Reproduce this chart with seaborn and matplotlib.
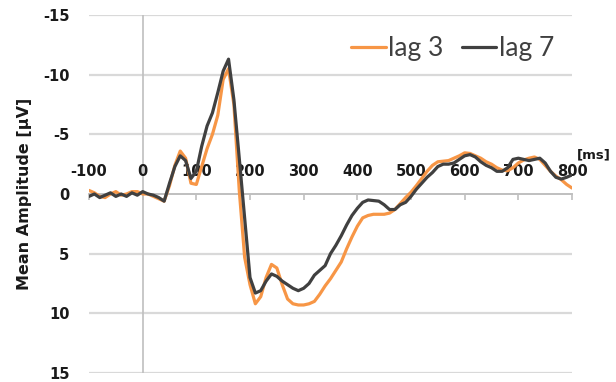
import matplotlib
matplotlib.use("Agg")
import matplotlib.pyplot as plt
import seaborn as sns
import pandas as pd

# time points (ms) and mean amplitudes (µV)
time_ms = [-100, -90, -80, -70, -60, -50, -40, -30, -20, -10,
           0, 10, 20, 30, 40, 50, 60, 70, 80, 90,
           100, 110, 120, 130, 140, 150, 160, 170, 180, 190,
           200, 210, 220, 230, 240, 250, 260, 270, 280, 290,
           300, 310, 320, 330, 340, 350, 360, 370, 380, 390,
           400, 410, 420, 430, 440, 450, 460, 470, 480, 490,
           500, 510, 520, 530, 540, 550, 560, 570, 580, 590,
           600, 610, 620, 630, 640, 650, 660, 670, 680, 690,
           700, 710, 720, 730, 740, 750, 760, 770, 780, 790,
           800]

lag3 = [-0.3, -0.1, 0.2, 0.3, 0.0, -0.2, 0.1, 0.0, -0.2, -0.2,
        0.0, 0.0, 0.2, 0.4, 0.6, -0.7, -2.4, -3.6, -3.0, -0.9,
        -0.8, -2.3, -3.8, -5.0, -6.6, -9.6, -10.5, -7.5, -0.3, 5.3,
        7.6, 9.2, 8.6, 7.0, 5.9, 6.2, 7.6, 8.8, 9.2, 9.3,
        9.3, 9.2, 9.0, 8.4, 7.7, 7.1, 6.4, 5.7, 4.6, 3.6,
        2.7, 2.0, 1.8, 1.7, 1.7, 1.7, 1.6, 1.3, 0.8, 0.3,
        -0.15, -0.7, -1.3, -1.9, -2.4, -2.7, -2.75, -2.8, -3.0, -3.2,
        -3.45, -3.4, -3.2, -3.0, -2.7, -2.5, -2.2, -2.0, -1.95, -2.2,
        -2.6, -2.85, -3.0, -3.1, -2.9, -2.4, -1.9, -1.5, -1.2, -0.8,
        -0.5]

lag7 = [0.2, 0.0, 0.3, 0.1, -0.1, 0.2, 0.0, 0.2, -0.1, 0.1,
        -0.2, 0.0, 0.1, 0.3, 0.6, -0.9, -2.3, -3.2, -2.8, -1.3,
        -1.9, -4.0, -5.7, -6.8, -8.5, -10.3, -11.3, -7.9, -3.0, 2.0,
        7.0, 8.3, 8.1, 7.3, 6.7, 6.9, 7.3, 7.6, 7.9, 8.1,
        7.9, 7.5, 6.8, 6.4, 6.0, 5.0, 4.3, 3.5, 2.6, 1.8,
        1.2, 0.7, 0.5, 0.55, 0.6, 0.9, 1.3, 1.3, 0.9, 0.7,
        0.2, -0.4, -0.9, -1.4, -1.8, -2.3, -2.5, -2.5, -2.6, -2.9,
        -3.2, -3.3, -3.1, -2.7, -2.4, -2.2, -1.9, -1.9, -2.2, -2.9,
        -3.0, -2.9, -2.8, -2.9, -3.0, -2.6, -1.9, -1.4, -1.25, -1.4,
        -1.6]

conditions = ["lag 3", "lag 7"]
colors = ["#F79646", "#404040"]

df = pd.concat([
    pd.DataFrame({"Time": time_ms, "Amplitude": lag3, "Condition": conditions[0]}),
    pd.DataFrame({"Time": time_ms, "Amplitude": lag7, "Condition": conditions[1]}),
])

sns.set_theme(style="white")
plt.rcParams["font.family"] = ["Lato", "DejaVu Sans"]
plt.rcParams["axes.unicode_minus"] = False

fig = plt.figure(figsize=(6.16, 3.82), dpi=100)
ax = fig.add_axes([89 / 616, 1 - 373 / 382, 483 / 616, 358 / 382])

sns.lineplot(data=df, x="Time", y="Amplitude", hue="Condition",
             palette=dict(zip(conditions, colors)), linewidth=2.3, ax=ax)

ax.set_xlim(-100, 800)
ax.set_ylim(15, -15)
ax.set_yticks([-15, -10, -5, 0, 5, 10, 15])
ax.set_xticks(range(-100, 801, 100))

# horizontal gridlines, vertical axis line at 0
for yv in [-15, -10, -5, 5, 10, 15]:
    ax.axhline(yv, color="#D9D9D9", lw=1.6, zorder=0)
ax.axvline(0, color="#BFBFBF", lw=1.2, zorder=0)

for s in ["left", "right", "bottom"]:
    ax.spines[s].set_visible(False)
ax.spines["top"].set_position(("data", 0))
ax.spines["top"].set_color("#BFBFBF")
ax.spines["top"].set_linewidth(1.4)
ax.spines["top"].set_zorder(0)
ax.xaxis.set_ticks_position("top")
ax.tick_params(axis="x", direction="in", length=4, width=1.2, color="#BFBFBF",
               pad=11, labelsize=10.5, labelcolor="#1a1a1a")
ax.tick_params(axis="y", length=0, pad=14, labelsize=10.5, labelcolor="#1a1a1a")
for lab in ax.get_xticklabels() + ax.get_yticklabels():
    lab.set_fontweight("bold")
    lab.set_family("DejaVu Sans")

ax.set_xlabel("")
ax.set_ylabel("Mean Amplitude [µV]", fontsize=11.5, fontweight="bold",
              family="DejaVu Sans", color="#1a1a1a")
ax.yaxis.set_label_coords(-0.118, 0.5)
ax.text(810, -3.3, "[ms]", fontsize=9.5, fontweight="bold", family="DejaVu Sans",
        ha="left", va="center", color="#1a1a1a", clip_on=False)

ax.legend(loc="upper right", bbox_to_anchor=(0.985, 0.97), ncol=2, frameon=False,
          fontsize=19, handlelength=1.3, handletextpad=0.1, columnspacing=0.7,
          labelcolor="#404040", borderaxespad=0)

fig.savefig("out.png", dpi=100)
